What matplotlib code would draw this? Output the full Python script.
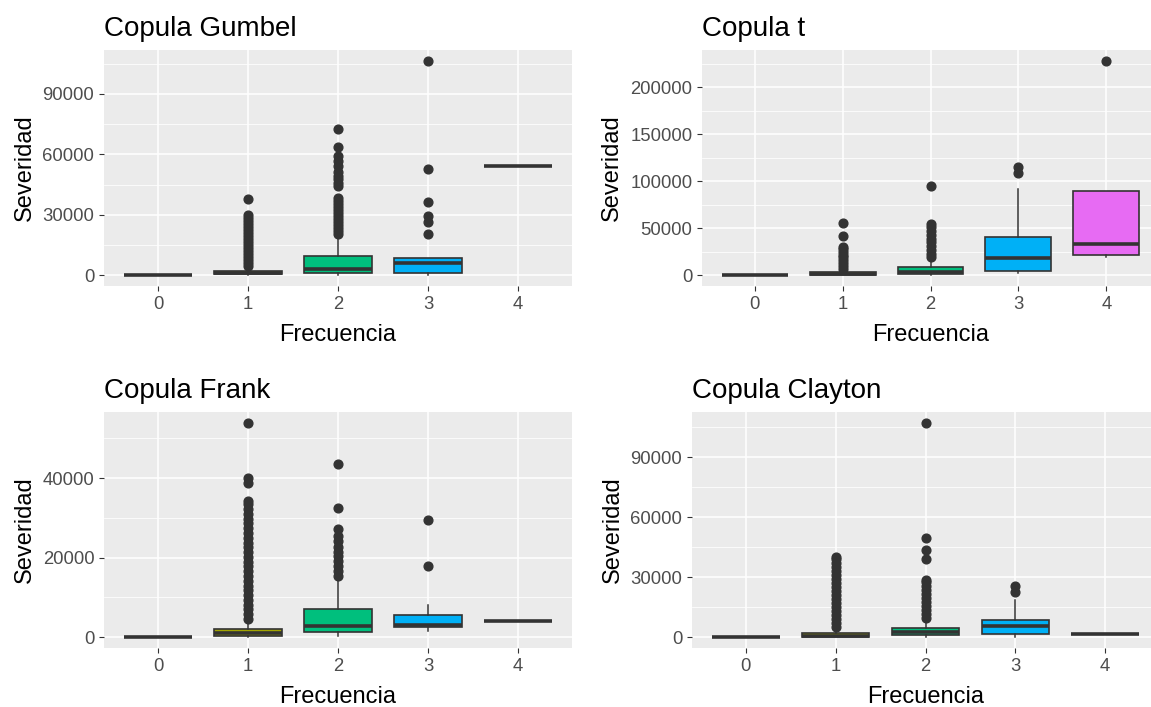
import numpy as np
import matplotlib.pyplot as plt
from matplotlib.ticker import MultipleLocator

plt.rcParams['font.family'] = ['Liberation Sans', 'DejaVu Sans']

# categories and fill colours (ggplot default hue for 5 levels)
freq_labels = ['0', '1', '2', '3', '4']
fill_colors = ['#F8766D', '#A3A500', '#00BF7D', '#00B0F6', '#E76BF3']

# Copula Gumbel
gumbel_lo = [0, 0, 0, 0, 54000]
gumbel_q1 = [0, 500, 1150, 1150, 54000]
gumbel_med = [0, 900, 3300, 6000, 54000]
gumbel_q3 = [0, 2100, 9400, 8800, 54000]
gumbel_hi = [0, 4500, 19000, 8800, 54000]
gumbel_out = [
    [],
    [4700, 6000, 7500, 9000, 10500, 12000, 13500, 15000, 16500, 18000, 19500,
     21000, 22500, 24000, 25500, 27000, 28500, 29800, 38000],
    [20500, 22000, 23500, 25000, 26500, 28000, 29500, 31000, 32500, 34000,
     35500, 37000, 38500, 44500, 46000, 48000, 49500, 51500, 54000, 56500,
     59000, 63500, 72500],
    [20700, 26200, 29500, 36600, 52700, 106500],
    [],
]

# Copula t
t_lo = [0, 0, 0, 2800, 19900]
t_q1 = [0, 0, 1000, 4300, 21300]
t_med = [0, 1000, 3000, 18800, 33000]
t_q3 = [0, 3200, 8900, 41200, 89800]
t_hi = [0, 6500, 17000, 91600, 89800]
t_out = [
    [],
    [7000, 10000, 13000, 16000, 19000, 22000, 25000, 28000, 30000, 41900, 56100],
    [19000, 23000, 27000, 31000, 35000, 39000, 43000, 47000, 51000, 55000, 94500],
    [108300, 115400],
    [228300],
]

# Copula Frank
frank_lo = [0, 0, 200, 1500, 4000]
frank_q1 = [0, 400, 1250, 2500, 4000]
frank_med = [0, 1100, 2950, 3200, 4000]
frank_q3 = [0, 2000, 7000, 5700, 4000]
frank_hi = [0, 3500, 14500, 8000, 4000]
frank_out = [
    [],
    [4600, 5800, 7000, 8200, 9400, 10600, 11800, 13000, 14200, 15400, 16600,
     17800, 19000, 20200, 21400, 22600, 23800, 25000, 26200, 27400, 28600,
     29800, 31000, 32200, 33400, 34200, 38800, 40000, 53900],
    [15500, 16700, 17900, 19100, 20300, 21500, 22700, 24200, 25400, 27300,
     32500, 43500],
    [17900, 29400],
    [],
]

# Copula Clayton
clayton_lo = [0, 0, 0, 200, 1700]
clayton_q1 = [0, 0, 1000, 1700, 1700]
clayton_med = [0, 500, 2800, 5800, 1700]
clayton_q3 = [0, 2000, 4700, 8500, 1700]
clayton_hi = [0, 4000, 8800, 18800, 1700]
clayton_out = [
    [],
    [5000, 7000, 9000, 11000, 13000, 15000, 17000, 19000, 21000, 23000, 25000,
     27000, 29000, 31000, 33000, 35000, 37000, 39000, 40000],
    [9500, 11500, 13500, 15500, 17500, 19500, 21500, 23500, 25500, 27500,
     28500, 39200, 43500, 49700, 107200],
    [22700, 25800],
    [],
]

panels = [
    ('Copula Gumbel', gumbel_lo, gumbel_q1, gumbel_med, gumbel_q3, gumbel_hi, gumbel_out, 30000),
    ('Copula t', t_lo, t_q1, t_med, t_q3, t_hi, t_out, 50000),
    ('Copula Frank', frank_lo, frank_q1, frank_med, frank_q3, frank_hi, frank_out, 20000),
    ('Copula Clayton', clayton_lo, clayton_q1, clayton_med, clayton_q3, clayton_hi, clayton_out, 30000),
]

W, H = 1151, 707
# axes boxes in pixels: left, top, right, bottom
boxes = [(104, 50, 572, 286), (702, 50, 1159, 286),
         (104, 412, 572, 648), (692, 412, 1159, 648)]

fig = plt.figure(figsize=(W / 100, H / 100), dpi=100)

for (title, lo, q1, med, q3, hi, out, step), (l, t, r, b) in zip(panels, boxes):
    ax = fig.add_axes([l / W, 1 - b / H, (r - l) / W, (b - t) / H])
    stats = []
    for i in range(len(freq_labels)):
        stats.append(dict(whislo=lo[i], q1=q1[i], med=med[i], q3=q3[i],
                          whishi=hi[i], fliers=out[i]))
    bp = ax.bxp(stats, positions=range(len(freq_labels)), widths=0.75,
                patch_artist=True, showcaps=False,
                boxprops=dict(edgecolor='#333333', linewidth=1.2),
                medianprops=dict(color='#333333', linewidth=2.6, solid_capstyle='butt'),
                whiskerprops=dict(color='#333333', linewidth=1.1),
                flierprops=dict(marker='o', markerfacecolor='#333333',
                                markeredgecolor='#333333', markersize=6.3))
    for patch, c in zip(bp['boxes'], fill_colors):
        patch.set_facecolor(c)

    # ggplot-like axis range: 5% expansion
    all_vals = [v for v in lo + hi] + [v for o in out for v in o]
    ymin, ymax = min(all_vals), max(all_vals)
    pad = 0.05 * (ymax - ymin)
    ax.set_ylim(ymin - pad, ymax + pad)
    ax.set_xlim(-0.6, len(freq_labels) - 0.4)

    ax.set_facecolor('#EBEBEB')
    ax.yaxis.set_major_locator(MultipleLocator(step))
    ax.yaxis.set_minor_locator(MultipleLocator(step / 2))
    ax.grid(which='major', color='white', linewidth=1.1)
    ax.grid(which='minor', axis='y', color='white', linewidth=0.55)
    ax.set_axisbelow(True)
    for s in ax.spines.values():
        s.set_visible(False)

    ax.set_xticks(range(len(freq_labels)))
    ax.set_xticklabels(freq_labels)
    ax.tick_params(which='major', length=3.5, width=0.8, color='#333333',
                   labelcolor='#4D4D4D', labelsize=13.3, pad=3.5)
    ax.tick_params(which='minor', length=0)

    ax.set_title(title, loc='left', fontsize=20, pad=10)
    ax.set_xlabel('Frecuencia', fontsize=17, labelpad=8)
    ax.set_ylabel('Severidad', fontsize=17, labelpad=5)

fig.savefig('out.png', dpi=100)
